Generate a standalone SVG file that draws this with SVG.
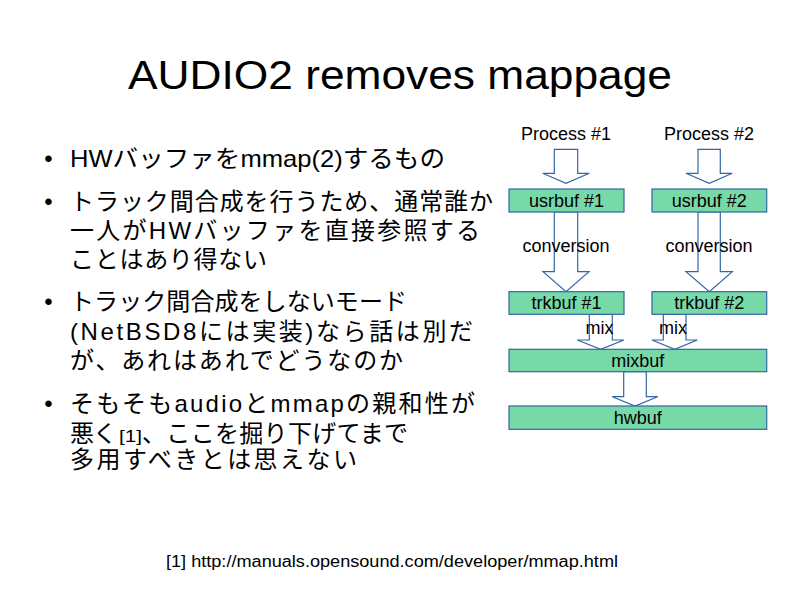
<svg xmlns="http://www.w3.org/2000/svg" width="800" height="600" viewBox="0 0 800 600">
<style>
.t{font-family:"Liberation Sans","Noto Sans CJK JP",sans-serif;fill:#000}
.j{font-family:"Liberation Sans","Noto Sans CJK JP",sans-serif;font-size:24px;fill:#000}
.box{fill:#77d9a8;stroke:#3465a4;stroke-width:1.2}
.arr{fill:#fff;stroke:#3465a4;stroke-width:1.2;stroke-linejoin:miter}
.bl{font-family:"Liberation Sans",sans-serif;font-size:18px;fill:#000;text-anchor:middle}
</style>
<rect width="800" height="600" fill="#fff"/>
<text class="t" x="400" y="89" font-size="40" text-anchor="middle" textLength="544" lengthAdjust="spacingAndGlyphs">AUDIO2 removes mappage</text>

<g id="bullets">
<text class="j" x="48.5" y="167" text-anchor="middle">•</text>
<text class="j" x="70" y="167" textLength="375" lengthAdjust="spacingAndGlyphs">HWバッファをmmap(2)するもの</text>
<text class="j" x="48.5" y="210" text-anchor="middle">•</text>
<text class="j" x="70" y="210" textLength="423" lengthAdjust="spacing">トラック間合成を行うため、通常誰か</text>
<text class="j" x="70" y="239" textLength="410" lengthAdjust="spacing">一人がHWバッファを直接参照する</text>
<text class="j" x="70" y="268" textLength="197" lengthAdjust="spacing">ことはあり得ない</text>
<text class="j" x="48.5" y="310" text-anchor="middle">•</text>
<text class="j" x="70" y="310" textLength="337" lengthAdjust="spacing">トラック間合成をしないモード</text>
<text class="j" x="70" y="340" textLength="403" lengthAdjust="spacing">(NetBSD8には実装)なら話は別だ</text>
<text class="j" x="70" y="369" textLength="333" lengthAdjust="spacing">が、あれはあれでどうなのか</text>
<text class="j" x="48.5" y="412" text-anchor="middle">•</text>
<text class="j" x="70" y="412" textLength="405" lengthAdjust="spacing">そもそもaudioとmmapの親和性が</text>
<text class="j" x="70" y="442" textLength="47" lengthAdjust="spacing">悪く</text>
<text class="t" x="119" y="442" font-size="16" textLength="23" lengthAdjust="spacingAndGlyphs">[1]</text>
<text class="j" x="142" y="442" textLength="266" lengthAdjust="spacing">、ここを掘り下げてまで</text>
<text class="j" x="70" y="468" textLength="287" lengthAdjust="spacing">多用すべきとは思えない</text>
</g>

<g id="connectors">
<polygon class="arr" points="554.3,149.3 577.7,149.3 577.7,173.3 589.3,173.3 566,183.3 542.7,173.3 554.3,173.3"/>
<polygon class="arr" points="698,149.3 720.3,149.3 720.3,173.3 732.3,173.3 709.3,183.3 686,173.3 698,173.3"/>
<polygon class="arr" points="554.3,212 577.7,212 577.7,271.7 589,271.7 566,291.7 543,271.7 554.3,271.7"/>
<polygon class="arr" points="698,212 720.3,212 720.3,271.7 732.3,271.7 709.3,291.7 686,271.7 698,271.7"/>
<polygon class="arr" points="589.3,314.3 612.3,314.3 612.3,340 624,340 600.7,349.3 577.3,340 589.3,340"/>
<polygon class="arr" points="663.3,314.3 686,314.3 686,340 697.3,340 674.7,349.3 652,340 663.3,340"/>
<polygon class="arr" points="623.7,371.7 646.3,371.7 646.3,396.7 657.7,396.7 635,406 612.3,396.7 623.7,396.7"/>
<text class="bl" x="566" y="140">Process #1</text>
<text class="bl" x="709" y="140">Process #2</text>
<text class="bl" x="566" y="252">conversion</text>
<text class="bl" x="709" y="252">conversion</text>
<text class="bl" x="599.5" y="334">mix</text>
<text class="bl" x="673" y="334">mix</text>
</g>

<g id="usrbuf1"><rect class="box" x="509" y="189" width="115" height="23"/><text class="bl" x="566.5" y="206.5">usrbuf #1</text></g>
<g id="usrbuf2"><rect class="box" x="652" y="189" width="114.7" height="23"/><text class="bl" x="709.3" y="206.5">usrbuf #2</text></g>
<g id="trkbuf1"><rect class="box" x="509" y="291.7" width="115" height="22.6"/><text class="bl" x="566.5" y="309">trkbuf #1</text></g>
<g id="trkbuf2"><rect class="box" x="652" y="291.7" width="114.7" height="22.6"/><text class="bl" x="709.3" y="309">trkbuf #2</text></g>
<g id="mixbuf"><rect class="box" x="509" y="349.3" width="257.7" height="22.4"/><text class="bl" x="637.8" y="366.5">mixbuf</text></g>
<g id="hwbuf"><rect class="box" x="509" y="406" width="257.7" height="23.3"/><text class="bl" x="637.8" y="423.5">hwbuf</text></g>

<text class="t" x="166" y="567" font-size="16" textLength="452" lengthAdjust="spacingAndGlyphs">[1] http://manuals.opensound.com/developer/mmap.html</text>
</svg>
